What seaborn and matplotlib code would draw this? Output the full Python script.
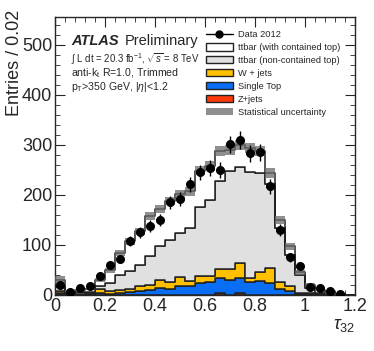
import numpy as np
import pandas as pd
import seaborn as sns
import matplotlib.pyplot as plt
from matplotlib.patches import Patch
from matplotlib.lines import Line2D
from matplotlib.ticker import MultipleLocator

# bin edges of tau_32 (0.04 wide)
edges = np.round(np.arange(0, 1.2001, 0.04), 2)
centers = (edges[:-1] + edges[1:]) / 2

# event counts per bin
data_2012 = [20, 6, 13, 18, 37, 59, 72, 108, 125, 137, 150, 185, 191, 221, 245,
             253, 250, 301, 310, 283, 285, 217, 130, 75, 57, 15, 13, 7, 2, 0]
ttbar_contained = [14, 3, 4, 5, 13, 26, 43, 60, 67, 80, 75, 77, 78, 74, 73,
                   68, 60, 43, 45, 48, 44, 21, 17, 17, 5, 6, 5, 2, 0, 0]
ttbar_noncontained = [8, 2, 3, 3, 5, 16, 30, 36, 43, 57, 68, 85, 88, 106, 138,
                      153, 175, 196, 191, 213, 198, 169, 108, 62, 37, 11, 3, 2, 1, 0]
wjets = [4, 1, 1, 2, 8, 5, 7, 6, 10, 11, 16, 14, 18, 9, 14,
         12, 19, 21, 30, 8, 17, 30, 14, 11, 1, 2, 1, 0, 0, 0]
single_top = [2, 1, 1, 1, 4, 2, 3, 5, 7, 9, 13, 11, 17, 18, 23,
              25, 29, 30, 30, 25, 28, 23, 11, 7, 2, 1, 0, 0, 0, 0]
zjets = [2, 0, 0, 0, 0, 0, 0, 0, 0, 0, 0, 0, 0, 0, 0,
         0, 4, 0, 4, 0, 0, 0, 0, 0, 0, 0, 0, 0, 0, 0]
stat_unc = [8, 2, 2, 2, 4, 5, 6, 7, 7, 8, 8, 8, 9, 9, 9,
            10, 10, 10, 10, 10, 10, 10, 8, 7, 5, 3, 2, 2, 1, 0]

labels = ["ttbar (with contained top)", "ttbar (non-contained top)",
          "W + jets", "Single Top", "Z+jets"]
colors = ["white", "#e0e0e0", "#ffc000", "#0a6ef5", "#ff3a0a"]
series = [ttbar_contained, ttbar_noncontained, wjets, single_top, zjets]

df = pd.concat([pd.DataFrame({"tau32": centers, "n": s, "proc": lab})
                for s, lab in zip(series, labels)], ignore_index=True)

sns.set_style("ticks")
plt.rcParams["font.family"] = ["Liberation Sans", "DejaVu Sans"]
plt.rcParams["mathtext.fontset"] = "custom"
plt.rcParams["mathtext.rm"] = "Liberation Sans"
plt.rcParams["mathtext.it"] = "Liberation Sans:italic"

fig = plt.figure(figsize=(3.74, 3.51), dpi=100)
ax = fig.add_axes([0.147, 0.160, 0.802, 0.792])

sns.histplot(data=df, x="tau32", weights="n", hue="proc", hue_order=labels,
             palette=colors, bins=list(edges), multiple="stack", element="step",
             fill=True, alpha=1, edgecolor="#222222", linewidth=1.1,
             legend=False, ax=ax)

# statistical uncertainty band on the total
total = np.sum(np.array(series), axis=0)
unc = np.array(stat_unc)
ax.bar(edges[:-1], 2 * unc, bottom=total - unc, width=0.04, align="edge",
       color="#6a6a6a", alpha=0.75, linewidth=0, zorder=3)

# data points
d = np.array(data_2012, dtype=float)
m = d > 0
ax.errorbar(centers[m], d[m], yerr=np.sqrt(d[m]), fmt="o", color="black",
            markersize=5.5, elinewidth=1, capsize=0, zorder=5)

ax.set_xlim(0, 1.2)
ax.set_ylim(0, 556)
ax.xaxis.set_major_locator(MultipleLocator(0.2))
ax.xaxis.set_minor_locator(MultipleLocator(0.04))
ax.yaxis.set_major_locator(MultipleLocator(100))
ax.yaxis.set_minor_locator(MultipleLocator(20))
ax.tick_params(which="both", direction="in", top=True, right=True, labelsize=13,
               pad=2)
ax.tick_params(which="major", length=7)
ax.tick_params(which="minor", length=3.5)
ax.set_xticks([0, 0.2, 0.4, 0.6, 0.8, 1.0, 1.2])
ax.set_xticklabels(["0", "0.2", "0.4", "0.6", "0.8", "1", "1.2"])
for s in ax.spines.values():
    s.set_linewidth(1)

ax.set_xlabel(r"$\tau_{32}$", fontsize=13, loc="right", labelpad=2)
ax.set_ylabel("Entries / 0.02", fontsize=13, loc="top")
ax.yaxis.set_label_coords(-0.105, 1.025)

ax.text(0.053, 0.9, "ATLAS", transform=ax.transAxes, fontsize=10.5,
        fontweight="bold", fontstyle="italic")
ax.text(0.233, 0.9, "Preliminary", transform=ax.transAxes, fontsize=10.5)
ax.text(0.053, 0.835, r"$\int$ L dt = 20.3 fb$^{-1}$, $\sqrt{s}$ = 8 TeV",
        transform=ax.transAxes, fontsize=6.9)
ax.text(0.053, 0.787, r"anti-k$_{\mathrm{t}}$ R=1.0, Trimmed",
        transform=ax.transAxes, fontsize=7.6)
ax.text(0.053, 0.737, r"p$_{\mathrm{T}}$>350 GeV, |$\eta$|<1.2",
        transform=ax.transAxes, fontsize=7.6)

handles = [Line2D([0], [0], color="black", marker="o", markersize=5, lw=1)]
handles += [Patch(facecolor=c, edgecolor="#222222", lw=1) for c in colors]
handles += [Patch(facecolor="#6a6a6a", alpha=0.75, lw=0)]
ax.legend(handles, ["Data 2012"] + labels + ["Statistical uncertainty"],
          loc="upper left", bbox_to_anchor=(0.49, 0.965), frameon=False,
          fontsize=6.7, handlelength=2.9, handleheight=0.8, labelspacing=0.42,
          handletextpad=0.55, borderaxespad=0)

fig.savefig("out.png", dpi=100)
